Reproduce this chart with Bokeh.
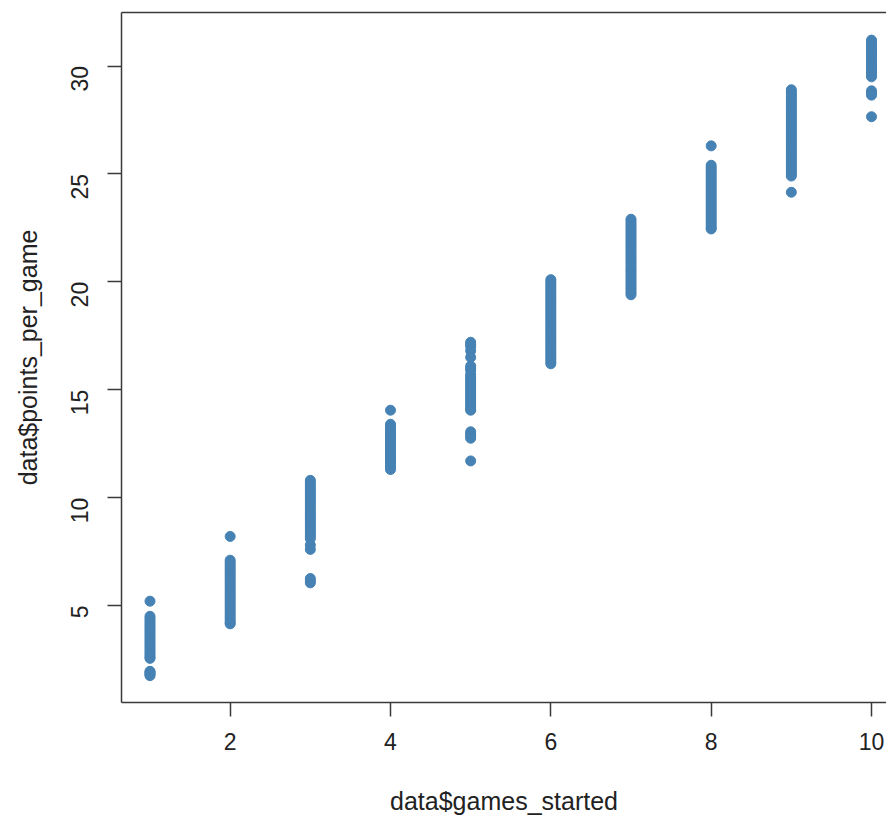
from bokeh.plotting import figure
from bokeh.models import Range1d, FixedTicker, LinearAxis, ColumnDataSource
from bokeh.embed import file_html
from bokeh.resources import INLINE
import math

# points_per_game values for each games_started value
games_1 = [5.2, 4.5, 4.4, 4.3, 4.2, 4.1, 4.0, 3.9, 3.8, 3.7, 3.6, 3.5, 3.4, 3.3, 3.2, 3.1, 3.0,
           2.9, 2.8, 2.7, 2.6, 2.55, 1.95, 1.9, 1.85, 1.8, 1.75]
games_2 = [8.2, 7.1, 7.0, 6.9, 6.8, 6.7, 6.6, 6.5, 6.4, 6.3, 6.2, 6.1, 6.0, 5.9, 5.8, 5.7, 5.6,
           5.5, 5.4, 5.3, 5.2, 5.1, 5.0, 4.9, 4.8, 4.7, 4.6, 4.5, 4.4, 4.3, 4.2, 4.15]
games_3 = [10.8, 10.7, 10.6, 10.5, 10.4, 10.3, 10.2, 10.1, 10.0, 9.9, 9.8, 9.7, 9.6, 9.5, 9.4,
           9.3, 9.2, 9.1, 9.0, 8.9, 8.8, 8.7, 8.6, 8.5, 8.4, 8.3, 8.2, 8.1, 7.8, 7.6, 6.25, 6.15, 6.05]
games_4 = [14.05, 13.4, 13.3, 13.2, 13.1, 13.0, 12.9, 12.8, 12.7, 12.6, 12.5, 12.4, 12.3, 12.2,
           12.1, 12.0, 11.9, 11.8, 11.7, 11.6, 11.5, 11.4, 11.3]
games_5 = [17.2, 17.1, 17.0, 16.8, 16.5, 16.1, 16.0, 15.9, 15.7, 15.6, 15.5, 15.4, 15.3, 15.2,
           15.1, 15.0, 14.9, 14.8, 14.7, 14.6, 14.5, 14.4, 14.3, 14.2, 14.1, 14.05,
           13.05, 12.95, 12.85, 12.75, 11.7]
games_6 = [20.1, 20.0, 19.9, 19.8, 19.7, 19.6, 19.5, 19.4, 19.3, 19.2, 19.1, 19.0, 18.9, 18.8,
           18.7, 18.6, 18.5, 18.4, 18.3, 18.2, 18.1, 18.0, 17.9, 17.8, 17.7, 17.6, 17.5, 17.4,
           17.3, 17.2, 17.1, 17.0, 16.9, 16.8, 16.7, 16.6, 16.5, 16.4, 16.3, 16.2]
games_7 = [22.9, 22.8, 22.7, 22.6, 22.5, 22.4, 22.3, 22.2, 22.1, 22.0, 21.9, 21.8, 21.7, 21.6,
           21.5, 21.4, 21.3, 21.2, 21.1, 21.0, 20.9, 20.8, 20.7, 20.6, 20.5, 20.4, 20.3, 20.2,
           20.1, 20.0, 19.9, 19.8, 19.7, 19.6, 19.5, 19.4]
games_8 = [26.3, 25.4, 25.3, 25.2, 25.1, 25.0, 24.9, 24.8, 24.7, 24.6, 24.5, 24.4, 24.3, 24.2,
           24.1, 24.0, 23.9, 23.8, 23.7, 23.6, 23.5, 23.4, 23.3, 23.2, 23.1, 23.0, 22.9, 22.8,
           22.7, 22.6, 22.5, 22.45]
games_9 = [28.9, 28.8, 28.7, 28.6, 28.5, 28.4, 28.3, 28.2, 28.1, 28.0, 27.9, 27.8, 27.7, 27.6,
           27.5, 27.4, 27.3, 27.2, 27.1, 27.0, 26.9, 26.8, 26.7, 26.6, 26.5, 26.4, 26.3, 26.2,
           26.1, 26.0, 25.9, 25.8, 25.7, 25.6, 25.5, 25.4, 25.3, 25.2, 25.1, 25.0, 24.9, 24.15]
games_10 = [31.2, 31.1, 31.0, 30.9, 30.8, 30.7, 30.6, 30.5, 30.4, 30.3, 30.2, 30.1, 30.0, 29.9,
            29.8, 29.7, 29.6, 29.5, 28.85, 28.75, 28.65, 27.65]

games_started = [1, 2, 3, 4, 5, 6, 7, 8, 9, 10]
columns = [games_1, games_2, games_3, games_4, games_5, games_6, games_7, games_8, games_9, games_10]

x_ticks = [2, 4, 6, 8, 10]
y_ticks = [5, 10, 15, 20, 25, 30]

xs, ys = [], []
for g, col in zip(games_started, columns):
    for v in col:
        xs.append(g)
        ys.append(v)

src = ColumnDataSource(data=dict(x=xs, y=ys))

FONT = "Liberation Sans"
TICK_FS = "23px"
LABEL_FS = "25px"
LINE = "#3a3a3a"

p = figure(width=886, height=817, output_backend="svg", toolbar_location=None,
           x_range=Range1d(0.6445, 10.187), y_range=Range1d(0.505, 32.48),
           x_axis_location=None, y_axis_location=None,
           min_border_left=121, min_border_right=0, min_border_top=12, min_border_bottom=108)
p.outline_line_color = None
p.background_fill_color = "white"
p.border_fill_color = "white"
p.xgrid.visible = False
p.ygrid.visible = False

p.scatter(x="x", y="y", source=src, size=10, marker="circle",
          fill_color="#4682B4", line_color="#4682B4")

def style(ax):
    ax.axis_line_color = LINE
    ax.axis_line_width = 1.5
    ax.major_tick_line_color = LINE
    ax.major_tick_line_width = 1.5
    ax.major_tick_out = 14
    ax.major_tick_in = 0
    ax.minor_tick_line_color = None
    ax.major_label_text_font = FONT
    ax.major_label_text_font_size = TICK_FS
    ax.major_label_text_color = "#222222"
    ax.axis_label_text_font = FONT
    ax.axis_label_text_font_size = LABEL_FS
    ax.axis_label_text_font_style = "normal"
    ax.axis_label_text_color = "#222222"

xa = LinearAxis(ticker=FixedTicker(ticks=x_ticks), axis_label="data$games_started")
style(xa)
xa.major_label_standoff = 16
xa.axis_label_standoff = 34
p.add_layout(xa, "below")

ya = LinearAxis(ticker=FixedTicker(ticks=y_ticks), axis_label="data$points_per_game")
style(ya)
ya.major_label_orientation = math.pi / 2
ya.major_label_standoff = 28
ya.axis_label_standoff = 18
p.add_layout(ya, "left")

top = LinearAxis(ticker=FixedTicker(ticks=[]))
top.axis_line_color = LINE
top.axis_line_width = 1.5
top.major_tick_line_color = None
top.minor_tick_line_color = None
top.major_label_text_color = None
top.major_label_text_font_size = "0px"
p.add_layout(top, "above")

open("out.html", "w").write(file_html(p, INLINE))
